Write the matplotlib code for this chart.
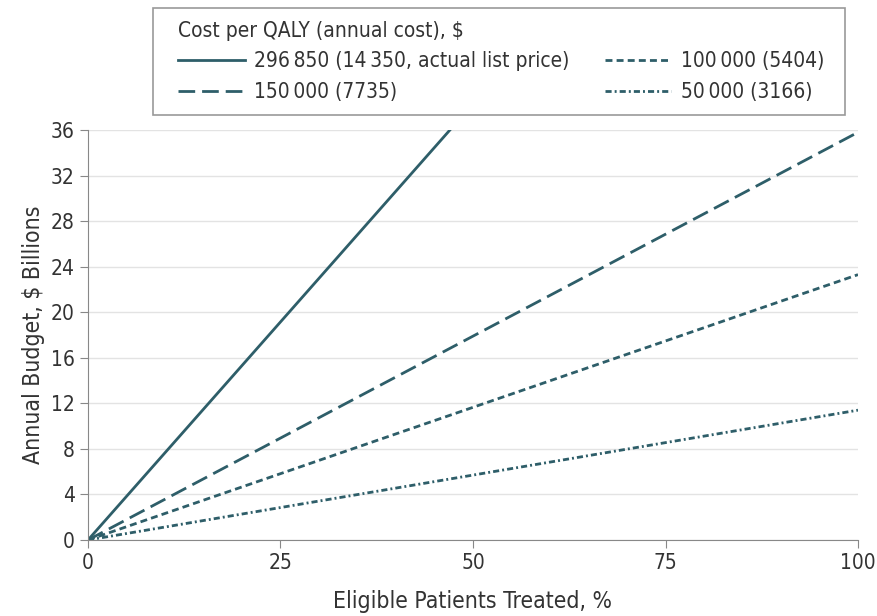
import matplotlib
matplotlib.use("Agg")
import matplotlib.pyplot as plt
from matplotlib.patches import Rectangle

# share of eligible patients treated (%) and annual budget ($ billions)
labels = ["296\u2009850 (14\u2009350, actual list price)", "150\u2009000 (7735)",
          "100\u2009000 (5404)", "50\u2009000 (3166)"]
x_end = [47.0, 100, 100, 100]
y_end = [36.0, 35.8, 23.3, 11.4]

color = "#2e5e69"
styles = ["-", (0, (6, 2.5)), (0, (2.5, 1.5)), (0, (2.2, 1.1, 0.7, 1.1))]

plt.rcParams["font.family"] = ["DejaVu Sans"]
plt.rcParams["font.stretch"] = "condensed"

W, H = 878, 616
fig = plt.figure(figsize=(W / 100, H / 100), dpi=100)
ax = fig.add_axes([88 / W, 76 / H, 770 / W, 410 / H])

for xe, ye, ls, lab in zip(x_end, y_end, styles, labels):
    ax.plot([0, xe], [0, ye], color=color, lw=2, linestyle=ls, label=lab)

ax.set_xlim(0, 100)
ax.set_ylim(0, 36)
ax.set_xticks([0, 25, 50, 75, 100])
ax.set_yticks(range(0, 37, 4))
ax.yaxis.grid(True, color="#e3e3e3", lw=1)
ax.set_axisbelow(True)
for s in ["top", "right"]:
    ax.spines[s].set_visible(False)
for s in ["left", "bottom"]:
    ax.spines[s].set_color("#888888")
ax.tick_params(colors="#888888", labelcolor="#333333", labelsize=15, length=6)
ax.set_xlabel("Eligible Patients Treated, %", fontsize=16.5, color="#333333", labelpad=12)
ax.set_ylabel("Annual Budget, $ Billions", fontsize=16.5, color="#333333", labelpad=4)

# legend box drawn by hand so the padding can differ left/top
fig.patches.append(Rectangle((153 / W, 1 - 115 / H), 692 / W, 107 / H,
                             transform=fig.transFigure, fill=False,
                             edgecolor="#999999", lw=1.2))
leg = fig.legend(title="Cost per QALY (annual cost), $", ncol=2, loc="upper left",
                 bbox_to_anchor=(178 / W, 1 - 21 / H), borderaxespad=0, borderpad=0,
                 fontsize=15, title_fontsize=15, handlelength=3.2,
                 handletextpad=0.45, alignment="left", frameon=False,
                 columnspacing=1.7, labelspacing=0.5)
for t in leg.get_texts():
    t.set_color("#333333")
leg.get_title().set_color("#333333")

fig.savefig("out.png", dpi=100)
